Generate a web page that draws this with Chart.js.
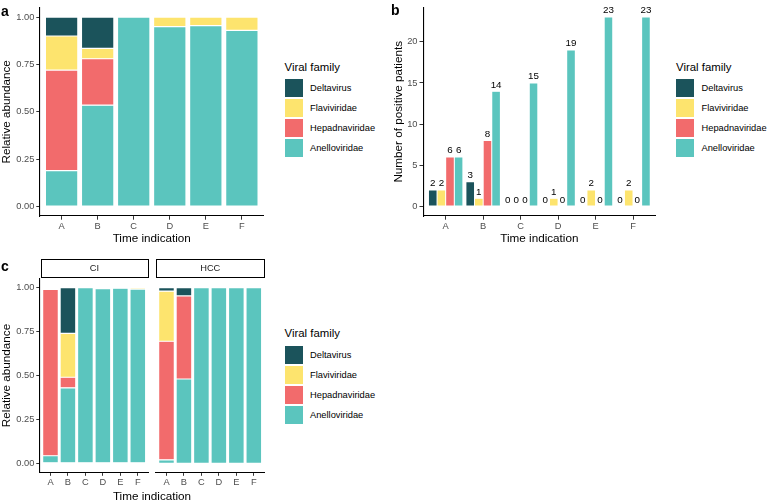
<!DOCTYPE html>
<html>
<head>
<meta charset="utf-8">
<script src="https://cdn.jsdelivr.net/npm/chart.js@4.4.1/dist/chart.umd.min.js"></script>
<style>
  body { margin: 0; background: #fff; }
  #fig { position: relative; width: 772px; height: 503px; overflow: hidden; font-family: "Liberation Sans", Arial, sans-serif; }
  #fig canvas { position: absolute; }
  .tag { position: absolute; font-weight: bold; font-size: 14px; line-height: 14px; }
  .strip { position: absolute; box-sizing: border-box; border: 1.2px solid #000; height: 19px; top: 259px;
           font-size: 9.3px; color: #1a1a1a; text-align: center; line-height: 17px; }
  .legend { position: absolute; }
  .legend .title { position: absolute; left: 0; top: -7px; font-size: 11.4px; white-space: nowrap; line-height: 14px; }
  .legend .key { position: absolute; left: 0; width: 18px; height: 18px; }
  .legend .lab { position: absolute; font-size: 9.3px; line-height: 18px; white-space: nowrap; color: #000; }
  .xtitle { position: absolute; font-size: 11.7px; white-space: nowrap; transform: translate(-50%, -50%); }
</style>
</head>
<body>
<div id="fig">
  <canvas id="chartA" width="264" height="250" style="left:0;top:0"></canvas>
  <canvas id="chartB" width="280" height="250" style="left:380px;top:0"></canvas>
  <canvas id="chartC1" width="150" height="233" style="left:0;top:270px"></canvas>
  <canvas id="chartC2" width="118" height="233" style="left:150px;top:270px"></canvas>
  <div class="tag" style="left:1px;top:4px">a</div>
  <div class="tag" style="left:391px;top:3px">b</div>
  <div class="tag" style="left:1px;top:259px">c</div>
  <div class="strip" style="left:40.5px;width:108px">CI</div>
  <div class="strip" style="left:156px;width:108.5px">HCC</div>
  <div class="xtitle" style="left:152px;top:495px">Time indication</div>
</div>
<script>
// time points and viral families
const timePoints = ["A", "B", "C", "D", "E", "F"];
const families = ["Deltavirus", "Flaviviridae", "Hepadnaviridae", "Anelloviridae"];
const familyColors = ["#1b535b", "#fde46e", "#f26b6c", "#5bc5be"];

// a: relative abundance, all patients
const abundDelta = [0.10, 0.165, 0, 0, 0, 0];
const abundFlavi = [0.18, 0.055, 0, 0.05, 0.045, 0.07];
const abundHepa = [0.53, 0.245, 0, 0, 0, 0];
const abundAnello = [0.19, 0.535, 1.0, 0.95, 0.955, 0.93];

// b: number of positive patients
const countDelta = [2, 3, 0, 0, 0, 0];
const countFlavi = [2, 1, 0, 1, 2, 2];
const countHepa = [6, 8, 0, 0, 0, 0];
const countAnello = [6, 14, 15, 19, 23, 23];

// c: relative abundance by group
const ciDelta = [0.006, 0.26, 0, 0, 0, 0];
const ciFlavi = [0.004, 0.25, 0, 0.005, 0.003, 0.008];
const ciHepa = [0.947, 0.06, 0, 0, 0, 0];
const ciAnello = [0.043, 0.43, 1.0, 0.995, 0.997, 0.992];

const hccDelta = [0.02, 0.047, 0, 0, 0, 0];
const hccFlavi = [0.285, 0, 0, 0, 0, 0];
const hccHepa = [0.675, 0.473, 0, 0, 0, 0];
const hccAnello = [0.02, 0.48, 1.0, 1.0, 1.0, 1.0];

const abundTicks = [0, 0.25, 0.5, 0.75, 1];
const countTicks = [0, 5, 10, 15, 20];

const FONT = '"Liberation Sans", Arial, sans-serif';

function points(arr) {
	return arr.map((v, i) => ({ x: i + 1, y: v }));
}

function stackedSets(delta, flavi, hepa, anello) {
	// bottom to top: Anelloviridae, Hepadnaviridae, Flaviviridae, Deltavirus
	const vals = [delta, flavi, hepa, anello];
	return [3, 2, 1, 0].map((k) => ({
		label: families[k],
		data: points(vals[k]),
		backgroundColor: familyColors[k],
		borderColor: "#fff",
		borderWidth: 0.6,
		borderSkipped: false,
		categoryPercentage: 1,
		barPercentage: 0.9,
	}));
}

function xScale(height, showTitle, titlePad) {
	return {
		type: "linear",
		stacked: true,
		offset: false,
		min: 0.4,
		max: 6.6,
		afterBuildTicks: (s) => { s.ticks = timePoints.map((t, i) => ({ value: i + 1 })); },
		afterFit: (s) => { s.height = height; },
		ticks: { color: "#4d4d4d", font: { size: 9.3, family: FONT }, padding: 1, autoSkip: false, maxRotation: 0,
			callback: (v) => timePoints[v - 1] },
		grid: { offset: false, drawOnChartArea: false, drawTicks: true, tickLength: 3.7, color: "#333" },
		border: { display: true, color: "#000", width: 1.1 },
		title: { display: showTitle, text: "Time indication", color: "#000", font: { size: 11.7, family: FONT },
			padding: { top: 0, bottom: titlePad } },
	};
}

function yScale(width, min, max, tickVals, fmt, title, titlePad) {
	return {
		stacked: true,
		min: min,
		max: max,
		afterBuildTicks: (s) => { s.ticks = tickVals.map((v) => ({ value: v })); },
		afterFit: (s) => { s.width = width; },
		ticks: { color: "#4d4d4d", font: { size: 9.3, family: FONT }, padding: 2, callback: fmt },
		grid: { drawOnChartArea: false, drawTicks: true, tickLength: 3.7, color: "#333" },
		border: { display: true, color: "#000", width: 1.1 },
		title: { display: true, text: title, color: "#000", font: { size: 11.7, family: FONT },
			padding: { top: titlePad, bottom: 0 } },
	};
}

const baseOpts = {
	responsive: false,
	animation: false,
	devicePixelRatio: 1,
	plugins: { legend: { display: false }, tooltip: { enabled: false } },
};

// value labels above the bars in panel b
const barLabels = {
	id: "barLabels",
	afterDatasetsDraw(chart) {
		const ctx = chart.ctx;
		ctx.save();
		ctx.font = "9.8px " + FONT;
		ctx.fillStyle = "#000";
		ctx.textAlign = "center";
		ctx.textBaseline = "bottom";
		chart.data.datasets.forEach((ds, i) => {
			chart.getDatasetMeta(i).data.forEach((bar, j) => {
				ctx.fillText(ds.data[j].y, bar.x, bar.y - 1.5);
			});
		});
		ctx.restore();
	},
};

const fixed2 = (v) => v.toFixed(2);

// panel a
new Chart(document.getElementById("chartA"), {
	type: "bar",
	data: { datasets: stackedSets(abundDelta, abundFlavi, abundHepa, abundAnello) },
	options: Object.assign({}, baseOpts, {
		layout: { padding: { left: 0, top: 2.6, right: 0.5, bottom: 0 } },
		scales: {
			x: xScale(34, true, 4.2),
			y: yScale(40, -0.05, 1.05, abundTicks, fixed2, "Relative abundance", 0),
		},
	}),
});

// panel b
const countVals = [countDelta, countFlavi, countHepa, countAnello];
const xB = xScale(34, true, 4.2);
xB.stacked = false;
const yB = yScale(43.2, -1.15, 24.15, countTicks, (v) => v, "Number of positive patients", 12);
yB.stacked = false;
new Chart(document.getElementById("chartB"), {
	type: "bar",
	data: {
		datasets: families.map((f, k) => ({
			label: f,
			data: points(countVals[k]),
			backgroundColor: familyColors[k],
			borderColor: "#fff",
			borderWidth: 0.5,
			borderSkipped: false,
			categoryPercentage: 0.92,
			barPercentage: 1,
		})),
	},
	options: Object.assign({}, baseOpts, {
		layout: { padding: { left: 0, top: 2.7, right: 4.5, bottom: 0 } },
		scales: { x: xB, y: yB },
	}),
	plugins: [barLabels],
});

// panel c, CI facet
new Chart(document.getElementById("chartC1"), {
	type: "bar",
	data: { datasets: stackedSets(ciDelta, ciFlavi, ciHepa, ciAnello) },
	options: Object.assign({}, baseOpts, {
		layout: { padding: { left: 0, top: 8.9, right: 1.7, bottom: 0 } },
		scales: {
			x: xScale(30.9, false, 0),
			y: yScale(40, -0.05, 1.05, abundTicks, fixed2, "Relative abundance", 0),
		},
	}),
});

// panel c, HCC facet
const yC2 = yScale(0, -0.05, 1.05, abundTicks, fixed2, "", 0);
yC2.display = false;
new Chart(document.getElementById("chartC2"), {
	type: "bar",
	data: { datasets: stackedSets(hccDelta, hccFlavi, hccHepa, hccAnello) },
	options: Object.assign({}, baseOpts, {
		layout: { padding: { left: 6, top: 8.9, right: 3.7, bottom: 0 } },
		scales: { x: xScale(30.9, false, 0), y: yC2 },
	}),
});

// legends
function addLegend(left, top) {
	const box = document.createElement("div");
	box.className = "legend";
	box.style.left = left + "px";
	box.style.top = top + "px";
	let html = '<div class="title">Viral family</div>';
	families.forEach((f, k) => {
		const y = 12.6 + k * 20;
		html += `<div class="key" style="top:${y}px;background:${familyColors[k]}"></div>`;
		html += `<div class="lab" style="top:${y}px;left:25.5px">${f}</div>`;
	});
	box.innerHTML = html;
	document.getElementById("fig").appendChild(box);
}
addLegend(284.5, 66.7);
addLegend(676, 66.7);
addLegend(284.5, 333);
</script>
</body>
</html>
